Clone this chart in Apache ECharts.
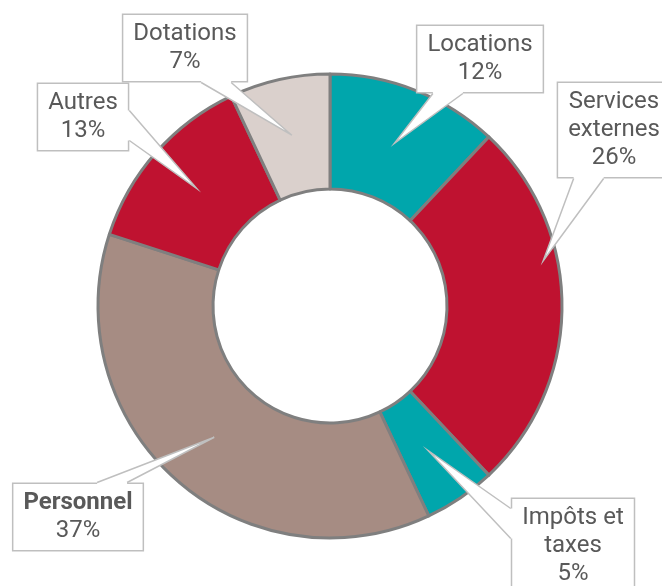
<!DOCTYPE html>
<html>
<head>
<meta charset="utf-8">
<script src="https://cdn.jsdelivr.net/npm/echarts@6/dist/echarts.min.js"></script>
<style>
  html, body { margin: 0; padding: 0; background: #fff; }
  #main { width: 662px; height: 586px; }
</style>
</head>
<body>
<div id="main"></div>
<script>
// donnees
var categories = ['Locations', 'Services\nexternes', 'Impôts et\ntaxes', 'Personnel', 'Autres', 'Dotations'];
var values = [12, 26, 5, 37, 13, 7];
var colors = ['#00A6AC', '#BF1230', '#00A6AC', '#A68C83', '#BF1230', '#DAD0CC'];

// position des etiquettes (centre de la boite), rayon / decalage de la pointe, cote d'attache
var labelPos = [[480, 59], [614, 130], [573, 546], [78, 517], [83, 117], [185, 48]];
var tipR = [175, 218, 175, 175, 178, 175];
var tipShift = [0, 12, 0, 0, 0, 0];
var tipSide = ['bottom', 'bottom', 'left', 'top', 'right', 'bottom'];

var cx = 330, cy = 306, rIn = 117, rOut = 232;

var myChart = echarts.init(document.getElementById('main'));

var total = 0;
for (var i = 0; i < values.length; i++) total += values[i];

var pieData = [];
for (var i = 0; i < values.length; i++) {
    pieData.push({
        name: categories[i],
        value: values[i],
        itemStyle: { color: colors[i] }
    });
}

function tipPoint(idx) {
    var before = 0;
    for (var j = 0; j < idx; j++) before += values[j];
    var f = (before + values[idx] / 2) / total;
    var a = (90 - f * 360 + tipShift[idx]) * Math.PI / 180;
    return [cx + tipR[idx] * Math.cos(a), cy - tipR[idx] * Math.sin(a)];
}

function clamp(v, a, b) { return Math.max(a, Math.min(b, v)); }

option = {
    animation: false,
    series: [{
        type: 'pie',
        center: [cx, cy],
        radius: [rIn, rOut],
        startAngle: 90,
        clockwise: true,
        data: pieData,
        itemStyle: {
            borderColor: '#7F7F7F',
            borderWidth: 3
        },
        label: {
            show: true,
            position: 'center',
            formatter: function(p) {
                if (p.dataIndex === 3) {
                    return '{b|' + p.name + '}\n{v|' + p.value + '%}';
                }
                return p.name + '\n' + p.value + '%';
            },
            color: '#595959',
            fontFamily: 'Roboto',
            fontSize: 24,
            lineHeight: 28,
            align: 'center',
            overflow: 'none',
            backgroundColor: '#fff',
            borderColor: '#BFBFBF',
            borderWidth: 1.5,
            padding: [5, 10],
            rich: {
                b: { fontWeight: 'bold', fontSize: 24, lineHeight: 28, color: '#595959', fontFamily: 'Roboto' },
                v: { fontSize: 24, lineHeight: 28, color: '#595959', fontFamily: 'Roboto' }
            }
        },
        labelLine: { show: false },
        emphasis: { disabled: true },
        labelLayout: function(params) {
            var pos = labelPos[params.dataIndex];
            return { x: pos[0], y: pos[1], align: 'center', verticalAlign: 'middle' };
        }
    }]
};
myChart.setOption(option);

// pointes des bulles
var data = myChart.getModel().getSeriesByIndex(0).getData();
var graphics = [];
for (var i = 0; i < values.length; i++) {
    var el = data.getItemGraphicEl(i);
    var t = el && el.getTextContent();
    if (!t) continue;
    var r = t.getBoundingRect().clone();
    r.applyTransform(t.getComputedTransform());
    var tip = tipPoint(i);
    var hw = 15, inset = 32, b1, b2, b1in, b2in;
    if (tipSide[i] === 'bottom' || tipSide[i] === 'top') {
        var y = tipSide[i] === 'bottom' ? r.y + r.height : r.y;
        var d = tipSide[i] === 'bottom' ? -3 : 3;
        var x = clamp(tip[0], r.x + inset, r.x + r.width - inset);
        b1 = [x - hw, y]; b2 = [x + hw, y];
        b1in = [x - hw, y + d]; b2in = [x + hw, y + d];
    } else {
        var x = tipSide[i] === 'left' ? r.x : r.x + r.width;
        var d = tipSide[i] === 'left' ? 3 : -3;
        var y = clamp(tip[1], r.y + 26, r.y + r.height - 26);
        b1 = [x, y - hw]; b2 = [x, y + hw];
        b1in = [x + d, y - hw]; b2in = [x + d, y + hw];
    }
    graphics.push({
        type: 'polygon', z: 10, silent: true,
        shape: { points: [b1in, b1, tip, b2, b2in] },
        style: { fill: '#fff', stroke: null }
    });
    graphics.push({
        type: 'polyline', z: 11, silent: true,
        shape: { points: [b1, tip, b2] },
        style: { stroke: '#BFBFBF', lineWidth: 1.5, fill: null }
    });
}
myChart.setOption({ graphic: graphics });
</script>
</body>
</html>
